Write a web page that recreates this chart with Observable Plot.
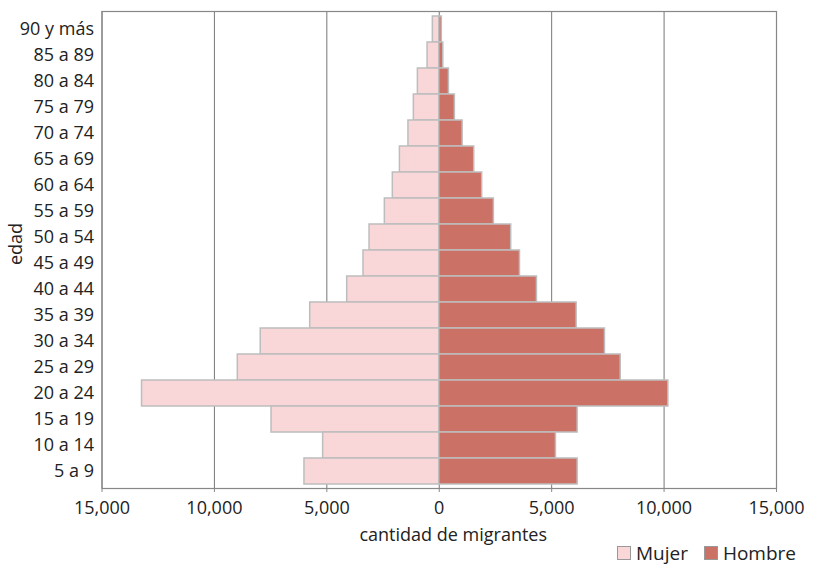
<!DOCTYPE html>
<html>
<head>
<meta charset="utf-8">
<script src="https://cdn.jsdelivr.net/npm/d3@7"></script>
<script src="https://cdn.jsdelivr.net/npm/@observablehq/plot@0.6"></script>
<style>
  body { margin: 0; background: #fff; font-family: "Open Sans", sans-serif; color: #222; }
  #wrap { position: relative; width: 814px; height: 567px; overflow: hidden; }
  #legend { position: absolute; right: 18px; top: 542px; display: flex; align-items: center; font-size: 19px; line-height: 22px; height: 22px; }
  .sw { display: inline-block; width: 12px; height: 12px; border: 1px solid #999; margin-right: 5px; }
  .item { display: flex; align-items: center; margin-left: 16px; }
</style>
</head>
<body>
<div id="wrap">
<div id="chart"></div>
<div id="legend">
  <span class="item"><span class="sw" style="background:#f9d7d9"></span>Mujer</span>
  <span class="item"><span class="sw" style="background:#cc7166"></span>Hombre</span>
</div>
</div>
<script>
const ages = ["90 y más","85 a 89","80 a 84","75 a 79","70 a 74","65 a 69","60 a 64","55 a 59","50 a 54","45 a 49","40 a 44","35 a 39","30 a 34","25 a 29","20 a 24","15 a 19","10 a 14","5 a 9"];
const mujer = [285, 520, 950, 1130, 1370, 1750, 2065, 2420, 3100, 3370, 4095, 5740, 7940, 8960, 13220, 7460, 5165, 5995];
const hombre = [115, 180, 430, 695, 1040, 1555, 1910, 2430, 3200, 3590, 4345, 6110, 7370, 8070, 10190, 6155, 5190, 6155];
const xTicks = [-15000, -10000, -5000, 0, 5000, 10000, 15000];

const data = [];
ages.forEach((a, i) => {
  data.push({edad: a, sexo: "Mujer", value: -mujer[i]});
  data.push({edad: a, sexo: "Hombre", value: hombre[i]});
});

const fmt = d3.format(",");
const chart = Plot.plot({
  width: 814,
  height: 546,
  marginLeft: 101.5,
  marginRight: 38,
  marginTop: 11,
  marginBottom: 58,
  style: { fontFamily: "Open Sans, sans-serif", fontSize: "18px", color: "#222", background: "#fff" },
  x: { domain: [-15000, 15000], ticks: xTicks, tickFormat: d => fmt(Math.abs(d)), label: null },
  y: { domain: ages, padding: 0, label: null },
  color: { domain: ["Mujer", "Hombre"], range: ["#f9d7d9", "#cc7166"] },
  marks: [
    Plot.gridX(xTicks, { stroke: "#777", strokeOpacity: 1, strokeWidth: 1 }),
    Plot.barX(data, { x: "value", y: "edad", fill: "sexo", stroke: "#bdbdbd", strokeWidth: 1.5 }),
    Plot.frame({ stroke: "#888", strokeWidth: 1.2 }),
    Plot.axisX(xTicks, { tickSize: 4, tickPadding: 9, stroke: "#888", fill: "#222", fontSize: 18, tickFormat: d => fmt(Math.abs(d)), label: null }),
    Plot.axisY({ tickSize: 0, tickPadding: 8, fill: "#222", fontSize: 18, label: null }),
    Plot.text(["cantidad de migrantes"], { frameAnchor: "bottom", dy: 52, dx: 14, fontSize: 18, fill: "#222" }),
    Plot.text(["edad"], { frameAnchor: "left", dx: -86, dy: 15, rotate: -90, fontSize: 18, fill: "#222" })
  ]
});
document.getElementById("chart").appendChild(chart);
</script>
</body>
</html>
